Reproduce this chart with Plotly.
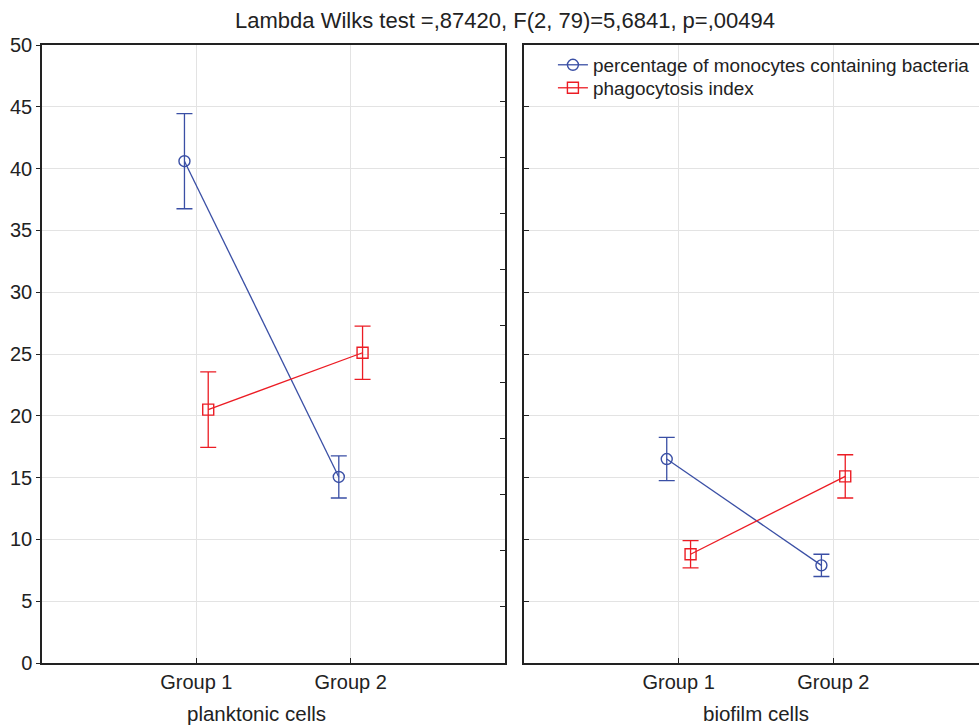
import plotly.graph_objects as go

# ---- data ----
groups = ["Group 1", "Group 2"]
panels = ["planktonic cells", "biofilm cells"]
series_names = ["percentage of monocytes containing bacteria", "phagocytosis index"]

monocytes_planktonic = [40.6, 15.05]
monocytes_planktonic_err = [3.85, 1.7]
phago_planktonic = [20.5, 25.1]
phago_planktonic_err = [3.05, 2.15]

monocytes_biofilm = [16.5, 7.9]
monocytes_biofilm_err = [1.75, 0.9]
phago_biofilm = [8.8, 15.1]
phago_biofilm_err = [1.1, 1.75]

y_ticks = list(range(0, 51, 5))
title_text = "Lambda Wilks test =,87420, F(2, 79)=5,6841, p=,00494"

# ---- style ----
# The original graph is wider than the 979 px window; its right frame is cut off.
W, H = 990, 725
ML, MR, MT, MB = 42, 0, 45, 62
PW = W - ML - MR
PH = H - MT - MB
BLUE = "#3A4FA5"
RED = "#EC1C24"
GRID = "#e3e3e3"
AXC = "#222222"
TXT = "#222222"
FONT = "Liberation Sans, Arial, sans-serif"
OFF = 0.077


def px2x(px):
    return (px - ML) / PW


def px2y(py):
    return 1 - (py - MT) / PH


xpos = [i + 1 for i in range(len(groups))]

fig = go.Figure()

panel_data = [
    (monocytes_planktonic, monocytes_planktonic_err, phago_planktonic, phago_planktonic_err, "x", "y"),
    (monocytes_biofilm, monocytes_biofilm_err, phago_biofilm, phago_biofilm_err, "x2", "y2"),
]

for pi, (mv, me, pv, pe, xa, ya) in enumerate(panel_data):
    for si, (vals, errs, color, sym, off, lg) in enumerate([
        (mv, me, BLUE, "circle-open", -OFF, "legend"),
        (pv, pe, RED, "square-open", OFF, "legend2"),
    ]):
        fig.add_trace(go.Scatter(
            x=[p + off for p in xpos], y=vals,
            mode="lines+markers",
            name=series_names[si],
            legendgroup=series_names[si],
            legend=lg,
            showlegend=(pi == 0),
            line=dict(color=color, width=1.3),
            marker=dict(symbol=sym, size=11, color=color, line=dict(width=1.4, color=color)),
            error_y=dict(type="data", array=errs, visible=True, color=color, thickness=1.3, width=8),
            xaxis=xa, yaxis=ya,
        ))

# empty trace so the secondary (unlabelled) right axis of the left panel is drawn
fig.add_trace(go.Scatter(x=[], y=[], xaxis="x", yaxis="y3", showlegend=False, hoverinfo="skip"))

d1_end = px2x(506)
d2_start = px2x(525)

common_x = dict(
    range=[0, 3], tickvals=xpos, ticktext=groups, showgrid=True, gridcolor=GRID, gridwidth=1,
    showline=True, linecolor=AXC, linewidth=1.5, ticks="inside", ticklen=5,
    tickcolor=AXC, zeroline=False, tickfont=dict(size=20, color=TXT), mirror=True,
)
common_y = dict(
    range=[0, 50], tickvals=y_ticks, showgrid=True, gridcolor=GRID, gridwidth=1,
    showline=True, linecolor=AXC, linewidth=1.5, zeroline=False, tickcolor=AXC,
)

leg_common = dict(xanchor="left", yanchor="top", bgcolor="rgba(0,0,0,0)",
                  font=dict(size=18.9, color=TXT), itemwidth=30, borderwidth=0)

fig.update_layout(
    width=W, height=H,
    margin=dict(l=ML, r=MR, t=MT, b=MB),
    paper_bgcolor="white", plot_bgcolor="white",
    font=dict(family=FONT, size=20, color=TXT),
    title=dict(text=title_text, x=505 / W, xref="container", xanchor="center",
               y=1 - 20 / H, yref="container", yanchor="middle", font=dict(size=22, color=TXT)),
    xaxis=dict(domain=[0, d1_end], **common_x),
    yaxis=dict(domain=[0, 1], ticks="outside", ticklen=4, showticklabels=True,
               tickfont=dict(size=20, color=TXT), mirror=False, **common_y),
    xaxis2=dict(domain=[d2_start, 1], anchor="y2", **common_x),
    yaxis2=dict(domain=[0, 1], anchor="x2", ticks="inside", ticklen=5, showticklabels=False,
                mirror=True, **common_y),
    yaxis3=dict(overlaying="y", side="right", anchor="x", range=[0, 55], dtick=5,
                ticks="inside", ticklen=5, tickcolor=AXC, showticklabels=False,
                showgrid=False, zeroline=False, showline=True, linecolor=AXC, linewidth=1.5),
    legend=dict(x=px2x(554), y=px2y(46), **leg_common),
    legend2=dict(x=px2x(554), y=px2y(69), **leg_common),
    showlegend=True,
)

# x-axis titles
for name, cx in zip(panels, [257, 758]):
    fig.add_annotation(text=name, x=px2x(cx), xref="paper", y=px2y(713), yref="paper",
                       showarrow=False, font=dict(size=20.5, color=TXT),
                       xanchor="center", yanchor="middle")

fig.write_html(
    "out.html",
    config={"displayModeBar": False},
    post_script="document.body.style.margin='0';document.body.style.overflow='hidden';",
)
